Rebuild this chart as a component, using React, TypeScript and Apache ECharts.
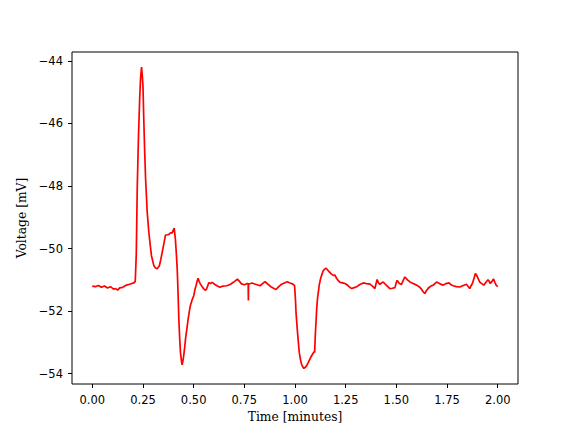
import React, { useEffect, useRef } from "react";
import * as echarts from "echarts";

const timeMin: number[] = [
  0.000, 0.015, 0.030, 0.045, 0.060, 0.075, 0.090, 0.105, 0.115, 0.125, 0.135, 0.150, 0.165, 0.180, 0.195, 0.205, 0.212, 0.217, 0.222, 0.228,
  0.234, 0.238, 0.243, 0.247, 0.250, 0.254, 0.258, 0.263, 0.271, 0.279, 0.286, 0.292, 0.304, 0.312, 0.320, 0.331, 0.338, 0.345, 0.353, 0.361,
  0.370, 0.378, 0.386, 0.394, 0.404, 0.410, 0.415, 0.419, 0.423, 0.427, 0.431, 0.435, 0.440, 0.443, 0.447, 0.451, 0.456, 0.460, 0.467, 0.473,
  0.479, 0.484, 0.492, 0.501, 0.507, 0.512, 0.517, 0.522, 0.527, 0.533, 0.542, 0.550, 0.557, 0.563, 0.569, 0.575, 0.583, 0.591, 0.605, 0.617,
  0.630, 0.645, 0.663, 0.680, 0.696, 0.716, 0.726, 0.736, 0.750, 0.765, 0.769, 0.770, 0.771, 0.788, 0.805, 0.828, 0.840, 0.852, 0.868, 0.885,
  0.906, 0.920, 0.934, 0.948, 0.962, 0.975, 0.988, 0.998, 1.002, 1.005, 1.011, 1.016, 1.021, 1.027, 1.032, 1.038, 1.044, 1.050, 1.057, 1.065,
  1.074, 1.080, 1.087, 1.094, 1.097, 1.100, 1.104, 1.107, 1.111, 1.115, 1.120, 1.126, 1.133, 1.139, 1.146, 1.153, 1.160, 1.169, 1.180, 1.189,
  1.197, 1.205, 1.213, 1.222, 1.235, 1.246, 1.255, 1.267, 1.279, 1.292, 1.305, 1.320, 1.337, 1.353, 1.370, 1.382, 1.394, 1.400, 1.405, 1.412,
  1.419, 1.427, 1.435, 1.450, 1.468, 1.480, 1.493, 1.500, 1.504, 1.515, 1.525, 1.535, 1.542, 1.555, 1.567, 1.583, 1.600, 1.612, 1.624, 1.632,
  1.640, 1.648, 1.657, 1.670, 1.682, 1.690, 1.698, 1.715, 1.731, 1.745, 1.760, 1.770, 1.780, 1.796, 1.813, 1.830, 1.846, 1.855, 1.862, 1.869,
  1.875, 1.883, 1.890, 1.898, 1.911, 1.921, 1.931, 1.942, 1.952, 1.958, 1.963, 1.972, 1.979, 1.986, 1.992, 2.000,
];

const voltageMv: number[] = [
  -51.20, -51.22, -51.18, -51.24, -51.20, -51.26, -51.22, -51.30, -51.28, -51.33, -51.26, -51.24, -51.18, -51.15, -51.12, -51.10, -51.05, -50.20, -48.00, -46.40,
  -45.20, -44.58, -44.20, -44.50, -44.79, -45.85, -46.80, -47.77, -48.84, -49.48, -49.90, -50.23, -50.55, -50.62, -50.65, -50.55, -50.35, -50.12, -49.85, -49.57,
  -49.56, -49.55, -49.50, -49.50, -49.35, -49.70, -50.20, -50.65, -51.40, -52.25, -52.85, -53.32, -53.60, -53.72, -53.60, -53.42, -53.15, -52.89, -52.55, -52.25,
  -52.00, -51.82, -51.65, -51.50, -51.30, -51.18, -51.05, -50.95, -51.05, -51.13, -51.22, -51.29, -51.33, -51.31, -51.20, -51.09, -51.12, -51.08, -51.15, -51.20,
  -51.24, -51.20, -51.19, -51.15, -51.08, -50.98, -51.05, -51.13, -51.16, -51.12, -51.12, -51.66, -51.14, -51.10, -51.14, -51.19, -51.12, -51.06, -51.15, -51.24,
  -51.31, -51.22, -51.14, -51.10, -51.06, -51.10, -51.13, -51.19, -51.60, -52.04, -52.57, -52.95, -53.32, -53.55, -53.69, -53.78, -53.83, -53.80, -53.75, -53.65,
  -53.53, -53.45, -53.37, -53.30, -53.32, -52.78, -52.30, -51.93, -51.60, -51.40, -51.15, -50.97, -50.82, -50.71, -50.66, -50.63, -50.68, -50.75, -50.82, -50.86,
  -50.85, -50.95, -51.02, -51.08, -51.10, -51.12, -51.15, -51.22, -51.28, -51.25, -51.22, -51.15, -51.10, -51.12, -51.14, -51.20, -51.28, -51.12, -50.99, -51.10,
  -51.15, -51.10, -51.07, -51.17, -51.28, -51.27, -51.25, -51.08, -51.02, -51.12, -51.15, -51.00, -50.91, -51.00, -51.07, -51.12, -51.17, -51.22, -51.30, -51.38,
  -51.44, -51.35, -51.27, -51.20, -51.17, -51.12, -51.07, -51.13, -51.17, -51.12, -51.10, -51.16, -51.19, -51.22, -51.23, -51.18, -51.14, -51.22, -51.28, -51.18,
  -51.12, -50.95, -50.80, -50.88, -51.07, -51.12, -51.17, -51.08, -51.00, -51.05, -51.12, -51.05, -50.97, -51.08, -51.17, -51.22,
];

const xTicks: number[] = [0, 0.25, 0.5, 0.75, 1.0, 1.25, 1.5, 1.75, 2.0];
const yTicks: number[] = [-54, -52, -50, -48, -46, -44];

export default function App() {
  const ref = useRef<HTMLDivElement>(null);
  useEffect(() => {
    if (!ref.current) return;
    const chart = echarts.init(ref.current, null, { renderer: "svg" });
    const data = timeMin.map((t, i) => [t, voltageMv[i]]);
    const tickFont = { fontFamily: "DejaVu Sans", fontSize: 11.5, color: "#000" };
    const nameFont = { fontFamily: "DejaVu Serif", fontSize: 12.3, color: "#000" };
    chart.setOption({
      animation: false,
      backgroundColor: "#fff",
      grid: {
        left: 72,
        right: 58,
        top: 52,
        bottom: 48,
        show: true,
        borderColor: "#000",
        borderWidth: 1,
        backgroundColor: "transparent",
      },
      xAxis: {
        type: "value",
        min: -0.1,
        max: 2.1,
        name: "Time [minutes]",
        nameLocation: "middle",
        nameGap: 27,
        nameTextStyle: nameFont,
        axisLine: { show: false, onZero: false },
        splitLine: { show: false },
        axisTick: {
          show: true,
          inside: false,
          length: 4,
          customValues: xTicks,
          lineStyle: { color: "#000", width: 1 },
        },
        axisLabel: {
          ...tickFont,
          margin: 10,
          customValues: xTicks,
          formatter: (v: number) => v.toFixed(2),
        },
      },
      yAxis: {
        type: "value",
        min: -54.33,
        max: -43.72,
        name: "Voltage [mV]",
        nameLocation: "middle",
        nameGap: 44,
        nameRotate: 90,
        nameTextStyle: nameFont,
        axisLine: { show: false, onZero: false },
        splitLine: { show: false },
        axisTick: {
          show: true,
          inside: false,
          length: 4,
          customValues: yTicks,
          lineStyle: { color: "#000", width: 1 },
        },
        axisLabel: {
          ...tickFont,
          margin: 9,
          customValues: yTicks,
          formatter: (v: number) => (v < 0 ? "\u2212" + Math.abs(v) : String(v)),
        },
      },
      series: [
        {
          type: "line",
          data,
          showSymbol: false,
          symbol: "none",
          lineStyle: { color: "#ff0000", width: 1.7 },
        },
      ],
    });
    return () => chart.dispose();
  }, []);
  return <div ref={ref} style={{ width: 576, height: 432, margin: -8 }} />;
}
